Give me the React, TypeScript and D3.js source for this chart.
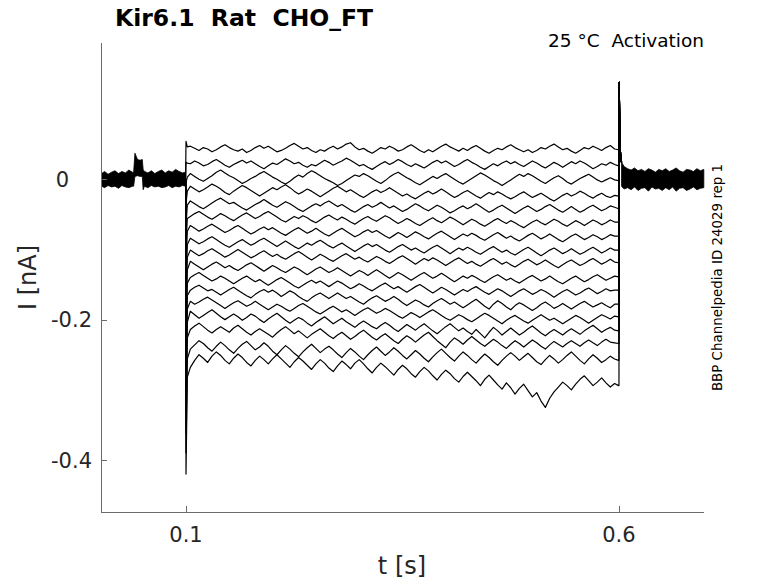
import React, { useEffect, useRef } from 'react';
import * as d3 from 'd3';

// all currents in pA, times in s
const stepTimes = [
    0.105, 0.110, 0.115, 0.120, 0.125, 0.130, 0.135, 0.140, 0.145, 0.150, 0.155,
    0.160, 0.165, 0.170, 0.175, 0.180, 0.185, 0.190, 0.195, 0.200, 0.205, 0.210,
    0.215, 0.220, 0.225, 0.230, 0.235, 0.240, 0.245, 0.250, 0.255, 0.260, 0.265,
    0.270, 0.275, 0.280, 0.285, 0.290, 0.295, 0.300, 0.305, 0.310, 0.315, 0.320,
    0.325, 0.330, 0.335, 0.340, 0.345, 0.350, 0.355, 0.360, 0.365, 0.370, 0.375,
    0.380, 0.385, 0.390, 0.395, 0.400, 0.405, 0.410, 0.415, 0.420, 0.425, 0.430,
    0.435, 0.440, 0.445, 0.450, 0.455, 0.460, 0.465, 0.470, 0.475, 0.480, 0.485,
    0.490, 0.495, 0.500, 0.505, 0.510, 0.515, 0.520, 0.525, 0.530, 0.535, 0.540,
    0.545, 0.550, 0.555, 0.560, 0.565, 0.570, 0.575, 0.580, 0.585, 0.590, 0.595,
];

const traces: number[][] = [
    [47, 44, 41, 45, 43, 39, 42, 46, 49, 45, 42,
     40, 43, 38, 41, 45, 48, 44, 47, 43, 39, 41,
     44, 48, 51, 47, 43, 45, 41, 38, 42, 40, 44,
     47, 43, 46, 50, 52, 46, 42, 44, 40, 37, 41,
     45, 43, 47, 44, 40, 42, 46, 49, 45, 41, 38,
     42, 39, 43, 47, 50, 46, 43, 40, 44, 41, 45,
     48, 44, 40, 37, 41, 44, 42, 46, 49, 45, 42,
     39, 42, 38, 41, 45, 43, 47, 50, 46, 42, 44,
     40, 37, 41, 45, 43, 47, 44, 41, 45, 48, 43],
    [22, 26, 23, 19, 21, 25, 28, 24, 20, 17, 21,
     24, 27, 23, 26, 22, 18, 15, 19, 23, 21, 25,
     29, 26, 22, 24, 20, 17, 21, 19, 23, 27, 24,
     20, 23, 26, 30, 27, 23, 19, 21, 17, 14, 18,
     22, 25, 21, 24, 28, 25, 21, 18, 22, 19, 16,
     20, 24, 27, 23, 26, 22, 18, 21, 25, 28, 24,
     21, 17, 14, 18, 22, 19, 23, 26, 22, 25, 21,
     18, 22, 26, 23, 19, 16, 20, 24, 21, 17, 21,
     25, 22, 26, 23, 19, 15, 18, 22, 20, 24, 21],
    [8, 4, 0, -3, 1, 5, 10, 13, 9, 5, 2,
     -2, -6, -3, 1, 4, 8, 11, 7, 3, 0, -4,
     -7, -3, 2, 6, 3, 8, 12, 9, 5, 1, -2,
     -5, -9, -6, -2, 2, 6, 4, 8, 5, 1, -3,
     -6, -2, 3, 7, 10, 6, 2, -1, -5, -8, -4,
     0, 4, 1, 5, 8, 4, 0, -4, -7, -3, 1,
     5, 9, 6, 2, -2, -5, -9, -5, -1, 3, 7,
     4, 8, 5, 1, -3, -6, -2, 2, 5, 1, -4,
     -7, -3, 1, 4, 7, 3, -1, -4, -1, 2, -1],
    [-10, -14, -18, -15, -11, -7, -10, -14, -19, -22, -17,
     -13, -9, -12, -16, -20, -24, -20, -16, -12, -15, -11,
     -8, -12, -17, -21, -18, -14, -17, -21, -25, -21, -17,
     -13, -10, -14, -18, -15, -19, -23, -26, -22, -18, -15,
     -19, -16, -12, -16, -20, -24, -21, -25, -28, -24, -20,
     -17, -21, -18, -14, -18, -22, -26, -23, -19, -16, -20,
     -24, -27, -23, -19, -22, -18, -21, -25, -28, -25, -21,
     -18, -22, -26, -23, -20, -24, -28, -31, -27, -23, -20,
     -24, -21, -17, -20, -24, -27, -23, -20, -24, -26, -23],
    [-31, -35, -39, -42, -38, -34, -30, -27, -31, -35, -33,
     -37, -41, -44, -40, -36, -33, -29, -33, -37, -40, -36,
     -32, -35, -39, -43, -46, -42, -38, -35, -38, -34, -31,
     -35, -39, -36, -40, -44, -47, -43, -39, -36, -40, -37,
     -33, -37, -41, -38, -42, -46, -43, -39, -35, -38, -42,
     -45, -41, -37, -40, -44, -48, -45, -41, -38, -42, -39,
     -35, -39, -43, -47, -44, -40, -37, -41, -45, -49, -45,
     -41, -38, -42, -46, -43, -39, -36, -40, -44, -47, -43,
     -39, -43, -47, -44, -40, -37, -41, -45, -42, -38, -40],
    [-53, -49, -46, -50, -54, -57, -53, -49, -52, -56, -59,
     -55, -51, -48, -52, -56, -53, -49, -46, -50, -54, -58,
     -61, -57, -53, -56, -52, -55, -59, -62, -58, -54, -51,
     -55, -58, -54, -57, -61, -64, -60, -56, -53, -57, -60,
     -56, -52, -55, -59, -63, -60, -56, -59, -63, -66, -62,
     -58, -55, -59, -62, -58, -54, -57, -61, -65, -61, -57,
     -60, -64, -67, -63, -59, -56, -60, -63, -59, -62, -66,
     -69, -65, -61, -58, -62, -65, -61, -57, -60, -64, -67,
     -63, -59, -62, -66, -62, -58, -61, -65, -62, -58, -61],
    [-66, -70, -74, -71, -67, -64, -68, -72, -76, -73, -69,
     -66, -70, -74, -78, -75, -71, -68, -72, -69, -73, -77,
     -80, -76, -72, -69, -73, -77, -74, -70, -74, -78, -81,
     -77, -73, -70, -74, -78, -82, -79, -75, -72, -76, -73,
     -77, -81, -84, -80, -76, -79, -83, -79, -75, -78, -82,
     -85, -81, -77, -74, -78, -82, -86, -82, -78, -81, -77,
     -80, -84, -87, -83, -79, -76, -80, -84, -81, -85, -88,
     -84, -80, -77, -81, -85, -82, -78, -82, -86, -89, -85,
     -81, -78, -82, -86, -83, -79, -82, -86, -83, -79, -81],
    [-84, -88, -92, -89, -85, -82, -86, -90, -94, -97, -93,
     -89, -86, -90, -94, -91, -87, -84, -88, -92, -96, -92,
     -88, -92, -96, -99, -95, -91, -94, -90, -87, -91, -95,
     -98, -94, -91, -95, -99, -103, -99, -95, -92, -96, -93,
     -97, -101, -104, -100, -96, -93, -97, -101, -98, -102, -105,
     -101, -97, -94, -98, -102, -106, -102, -98, -101, -97, -100,
     -104, -107, -103, -99, -96, -100, -104, -101, -105, -108, -104,
     -100, -97, -101, -105, -109, -105, -101, -98, -102, -106, -103,
     -99, -103, -107, -104, -100, -97, -101, -105, -102, -98, -101],
    [-101, -105, -109, -106, -102, -99, -103, -107, -111, -108, -104,
     -100, -104, -108, -112, -109, -105, -102, -106, -110, -107, -111,
     -114, -110, -106, -103, -107, -111, -115, -111, -107, -110, -114,
     -117, -113, -109, -106, -110, -114, -111, -115, -118, -114, -110,
     -113, -117, -120, -116, -112, -109, -113, -117, -121, -117, -113,
     -116, -112, -115, -119, -123, -119, -115, -112, -116, -120, -117,
     -121, -124, -120, -116, -113, -117, -121, -118, -122, -125, -121,
     -117, -114, -118, -122, -119, -115, -119, -123, -126, -122, -118,
     -115, -119, -123, -120, -116, -113, -117, -121, -118, -114, -118],
    [-117, -121, -125, -129, -125, -121, -118, -122, -126, -123, -127,
     -130, -126, -122, -119, -123, -127, -131, -127, -123, -126, -130,
     -133, -129, -125, -128, -132, -136, -132, -128, -125, -129, -133,
     -130, -126, -130, -134, -138, -134, -130, -133, -137, -133, -129,
     -133, -137, -141, -137, -133, -136, -140, -144, -140, -136, -133,
     -137, -141, -138, -134, -138, -142, -146, -142, -138, -141, -137,
     -140, -144, -147, -143, -139, -136, -140, -144, -141, -145, -148,
     -144, -140, -137, -141, -145, -142, -138, -142, -146, -149, -145,
     -141, -138, -142, -146, -143, -139, -136, -140, -144, -141, -138],
    [-140, -136, -133, -137, -141, -145, -142, -138, -141, -145, -149,
     -145, -141, -138, -142, -146, -143, -147, -151, -147, -143, -140,
     -144, -148, -152, -155, -151, -147, -144, -148, -145, -149, -153,
     -149, -145, -148, -152, -156, -153, -149, -152, -156, -159, -155,
     -151, -148, -152, -156, -153, -157, -161, -157, -153, -150, -154,
     -158, -162, -158, -154, -157, -161, -165, -161, -157, -160, -156,
     -153, -157, -161, -164, -160, -156, -159, -163, -167, -163, -159,
     -156, -160, -164, -161, -157, -160, -164, -168, -164, -160, -157,
     -161, -165, -162, -158, -155, -159, -163, -160, -156, -159, -158],
    [-158, -154, -151, -155, -159, -157, -161, -165, -161, -157, -154,
     -158, -162, -166, -169, -164, -160, -157, -161, -158, -162, -167,
     -163, -159, -162, -167, -171, -174, -169, -165, -162, -166, -170,
     -166, -162, -166, -170, -167, -171, -175, -178, -173, -169, -166,
     -170, -174, -171, -167, -171, -176, -180, -176, -172, -175, -179,
     -182, -177, -173, -170, -174, -178, -175, -179, -183, -179, -175,
     -171, -176, -181, -185, -178, -173, -177, -182, -186, -180, -176,
     -179, -183, -187, -183, -178, -175, -179, -184, -181, -177, -181,
     -185, -181, -177, -174, -178, -182, -179, -176, -180, -183, -178],
    [-174, -178, -175, -171, -168, -172, -176, -180, -184, -180, -176,
     -173, -177, -181, -178, -174, -178, -182, -186, -182, -178, -181,
     -185, -188, -184, -180, -177, -181, -185, -189, -192, -188, -184,
     -181, -185, -189, -186, -190, -194, -190, -186, -183, -187, -191,
     -188, -184, -187, -191, -195, -198, -194, -190, -193, -197, -193,
     -189, -186, -190, -194, -198, -201, -197, -193, -196, -200, -203,
     -199, -195, -191, -194, -198, -202, -206, -201, -197, -194, -198,
     -202, -205, -201, -197, -193, -197, -201, -198, -202, -206, -202,
     -198, -194, -197, -201, -205, -201, -197, -193, -196, -199, -195],
    [-188, -193, -198, -194, -190, -186, -191, -196, -200, -196, -192,
     -196, -201, -197, -192, -195, -200, -204, -199, -195, -191, -196,
     -201, -205, -201, -197, -200, -205, -209, -204, -200, -196, -201,
     -206, -202, -198, -203, -207, -211, -206, -202, -206, -210, -213,
     -208, -204, -208, -213, -217, -212, -207, -211, -215, -210, -206,
     -211, -216, -220, -215, -210, -206, -211, -216, -212, -217, -221,
     -214, -220, -226, -218, -211, -216, -222, -217, -212, -217, -222,
     -218, -213, -209, -214, -219, -223, -218, -214, -218, -222, -217,
     -213, -217, -221, -216, -212, -208, -213, -218, -214, -211, -215],
    [-214, -209, -205, -210, -215, -219, -214, -210, -214, -218, -212,
     -208, -213, -218, -222, -217, -213, -217, -221, -225, -219, -214,
     -210, -215, -220, -216, -221, -226, -221, -217, -213, -218, -223,
     -227, -222, -218, -223, -228, -224, -219, -215, -220, -225, -229,
     -224, -220, -225, -230, -234, -228, -223, -227, -232, -227, -222,
     -218, -224, -230, -235, -240, -232, -226, -230, -235, -229, -224,
     -229, -234, -238, -233, -228, -232, -237, -241, -235, -230, -234,
     -239, -234, -229, -233, -238, -242, -236, -231, -235, -239, -234,
     -230, -234, -238, -233, -229, -233, -237, -232, -228, -232, -233],
    [-242, -236, -230, -234, -240, -245, -238, -232, -237, -243, -248,
     -241, -235, -231, -237, -243, -239, -233, -238, -245, -250, -243,
     -237, -242, -248, -253, -246, -240, -235, -241, -247, -242, -238,
     -243, -249, -254, -247, -241, -246, -252, -257, -250, -244, -239,
     -245, -251, -246, -240, -245, -251, -256, -250, -244, -249, -255,
     -260, -253, -247, -242, -248, -254, -259, -252, -246, -251, -257,
     -262, -255, -249, -254, -260, -265, -258, -252, -247, -252, -258,
     -253, -248, -254, -260, -264, -257, -251, -256, -262, -257, -251,
     -246, -252, -258, -263, -256, -250, -255, -261, -257, -252, -256],
    [-268, -258, -250, -255, -261, -252, -246, -251, -258, -263, -255,
     -249, -254, -261, -266, -258, -252, -257, -263, -256, -250, -256,
     -262, -268, -260, -254, -259, -265, -271, -263, -257, -262, -269,
     -274, -266, -259, -264, -270, -262, -257, -263, -270, -276, -268,
     -262, -267, -273, -279, -271, -265, -270, -277, -282, -274, -268,
     -273, -280, -286, -278, -272, -277, -284, -289, -281, -275, -281,
     -287, -294, -285, -279, -286, -293, -299, -290, -297, -306, -298,
     -292, -301, -310, -304, -316, -325, -312, -303, -296, -289, -294,
     -300, -292, -285, -280, -287, -294, -289, -283, -290, -296, -291],
];

// capacitive transient at step onset (t = 0.1) and shortly after
const onsetSpike = [54, 24, -5, -35, -65, -94, -124, -153, -183, -213, -242, -272, -301, -331, -361, -390, -420];
const onsetSettle = [46, 23, 3, -17, -37, -56, -74, -93, -111, -129, -148, -166, -185, -204, -226, -256, -282];
const endValues = [42, 19, -2, -24, -42, -61, -81, -101, -119, -139, -158, -178, -196, -216, -234, -258, -294];

// tail transient at step offset
const tailTimes = [0.6003, 0.6010, 0.6020, 0.6030];
const tailValues = [138, 55, 32, 24];

// holding-current band before the step
const preTimes = [0.0025, 0.006, 0.010, 0.014, 0.018, 0.022, 0.026, 0.030, 0.034, 0.038, 0.0395, 0.041, 0.044, 0.047, 0.0495, 0.0505, 0.052, 0.056, 0.060, 0.064, 0.068, 0.072, 0.076, 0.080, 0.084, 0.088, 0.092, 0.096, 0.0995];
const preUpper = [8, 11, 7, 10, 12, 8, 11, 9, 13, 10, 10, 37, 28, 27, 28, 14, 11, 9, 12, 8, 11, 13, 9, 12, 10, 14, 11, 9, 10];
const preLower = [-10, -12, -9, -11, -10, -13, -9, -11, -12, -10, -10, 4, 5, 4, 4, -15, -10, -12, -9, -11, -10, -12, -11, -9, -12, -10, -11, -9, -10];

// holding-current band after the step
const postTimes = [0.603, 0.606, 0.610, 0.614, 0.618, 0.622, 0.626, 0.630, 0.634, 0.638, 0.642, 0.646, 0.650, 0.654, 0.658, 0.662, 0.666, 0.670, 0.674, 0.678, 0.682, 0.686, 0.690, 0.694, 0.698];
const postUpper = [24, 18, 15, 13, 16, 12, 14, 11, 15, 13, 10, 14, 12, 15, 11, 13, 16, 12, 10, 14, 13, 11, 15, 12, 14];
const postLower = [-10, -14, -12, -15, -11, -16, -13, -12, -17, -11, -14, -13, -16, -12, -15, -11, -17, -13, -12, -16, -14, -11, -15, -13, -12];

const xTicks = [0.1, 0.6];
const xTickLabels = ['0.1', '0.6'];
const yTicks = [0, -0.2, -0.4];
const yTickLabels = ['0', '-0.2', '-0.4'];

const FONT = '"DejaVu Sans", sans-serif';

const App: React.FC = () => {
    const chartRef = useRef<SVGSVGElement>(null);

    useEffect(() => {
        if (!chartRef.current) return;
        const svg = d3.select(chartRef.current);
        svg.selectAll('*').remove();

        const x = d3.scaleLinear().domain([0.0024, 0.6982]).range([101.5, 704]);
        const y = d3.scaleLinear().domain([-0.474, 0.194]).range([512, 43]);
        const pa = (v: number) => y(v / 1000);

        // baseline bands (many overlapping traces at holding potential)
        const drawBand = (times: number[], up: number[], lo: number[]) => {
            const area = d3.area<number>()
                .x(i => x(times[i]))
                .y0(i => pa(lo[i]))
                .y1(i => pa(up[i]));
            svg.append('path')
                .attr('d', area(d3.range(times.length)) as string)
                .attr('fill', '#000')
                .attr('stroke', '#000')
                .attr('stroke-width', 0.8);
        };
        drawBand(preTimes, preUpper, preLower);
        drawBand(postTimes, postUpper, postLower);

        const line = d3.line<[number, number]>()
            .x(d => x(d[0]))
            .y(d => pa(d[1]));

        traces.forEach((vals, k) => {
            const pts: [number, number][] = [
                [0.0995, 0],
                [0.1, onsetSpike[k]],
                [0.1015, onsetSettle[k]],
                ...vals.map((v, i) => [stepTimes[i], v] as [number, number]),
                [0.5995, endValues[k]],
                [0.6, endValues[k]],
                ...tailTimes.map((t, i) => [t, tailValues[i]] as [number, number]),
            ];
            svg.append('path')
                .attr('d', line(pts) as string)
                .attr('fill', 'none')
                .attr('stroke', '#000')
                .attr('stroke-width', 1.2)
                .attr('stroke-linejoin', 'round');
        });

        // axes
        const axisColor = '#6a6a6a';
        svg.append('line')
            .attr('x1', 101.5).attr('x2', 101.5).attr('y1', 43).attr('y2', 512.5)
            .attr('stroke', axisColor).attr('stroke-width', 1);
        svg.append('line')
            .attr('x1', 101).attr('x2', 704).attr('y1', 512.5).attr('y2', 512.5)
            .attr('stroke', axisColor).attr('stroke-width', 1);

        yTicks.forEach((t, i) => {
            const yy = Math.round(y(t)) + 0.5;
            svg.append('line')
                .attr('x1', 101.5).attr('x2', 107).attr('y1', yy).attr('y2', yy)
                .attr('stroke', axisColor);
            svg.append('text')
                .attr('x', yTickLabels[i] === '0' ? 69 : 92)
                .attr('y', y(t) + 7.5)
                .attr('text-anchor', 'end')
                .attr('font-family', FONT)
                .attr('font-size', 21)
                .attr('fill', '#262626')
                .text(yTickLabels[i]);
        });

        xTicks.forEach((t, i) => {
            const xx = Math.round(x(t)) + 0.5;
            svg.append('line')
                .attr('x1', xx).attr('x2', xx).attr('y1', 512.5).attr('y2', 506)
                .attr('stroke', axisColor);
            svg.append('text')
                .attr('x', x(t))
                .attr('y', 542)
                .attr('text-anchor', 'middle')
                .attr('font-family', FONT)
                .attr('font-size', 21)
                .attr('fill', '#262626')
                .text(xTickLabels[i]);
        });

        // labels
        svg.append('text')
            .attr('x', 402).attr('y', 574)
            .attr('text-anchor', 'middle')
            .attr('font-family', FONT).attr('font-size', 24)
            .attr('fill', '#262626')
            .text('t [s]');

        svg.append('text')
            .attr('transform', 'translate(36,277.5) rotate(-90)')
            .attr('text-anchor', 'middle')
            .attr('font-family', FONT).attr('font-size', 24)
            .attr('fill', '#262626')
            .text('I [nA]');

        svg.append('text')
            .attr('x', 115).attr('y', 26)
            .attr('font-family', FONT).attr('font-size', 23.5)
            .attr('font-weight', 'bold')
            .attr('fill', '#000')
            .style('white-space', 'pre')
            .text('Kir6.1  Rat  CHO_FT');

        svg.append('text')
            .attr('x', 704).attr('y', 47)
            .attr('text-anchor', 'end')
            .attr('font-family', FONT).attr('font-size', 18.5)
            .attr('fill', '#000')
            .style('white-space', 'pre')
            .text('25 °C  Activation');

        svg.append('text')
            .attr('transform', 'translate(722,277.5) rotate(-90)')
            .attr('text-anchor', 'middle')
            .attr('font-family', FONT).attr('font-size', 13.4)
            .attr('fill', '#000')
            .text('BBP Channelpedia ID 24029 rep 1');
    }, []);

    return (
        <svg
            ref={chartRef}
            width={778}
            height={583}
            style={{ position: 'absolute', left: 0, top: 0, background: '#fff' }}
        />
    );
};

export default App;
